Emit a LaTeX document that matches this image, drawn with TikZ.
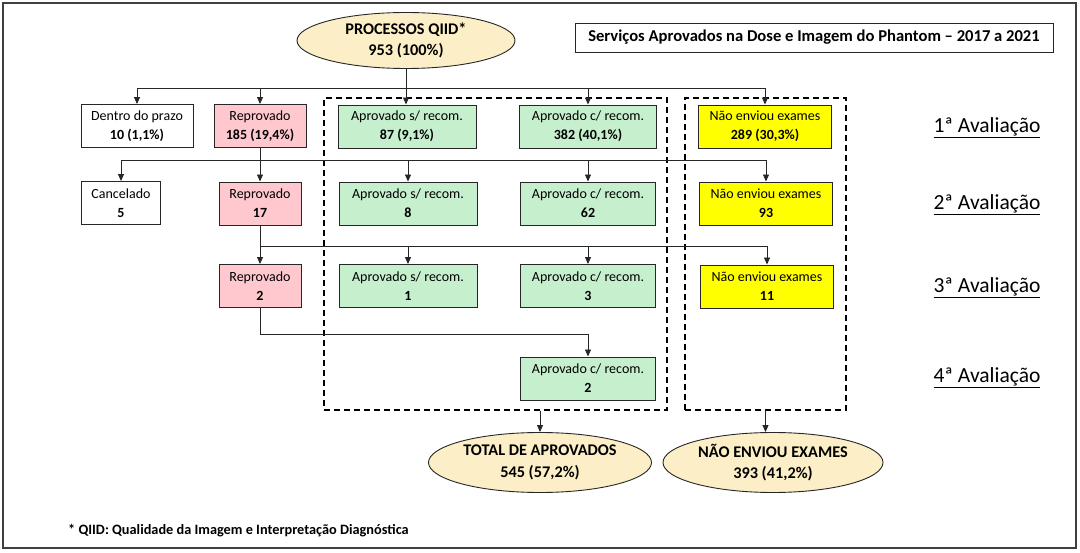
\documentclass[tikz,border=0pt]{standalone}
\usepackage{fontspec}
\setmainfont{Carlito}
\usetikzlibrary{shapes.geometric,arrows.meta}
\definecolor{elfill}{HTML}{FCEFC7}
\definecolor{pinkfill}{HTML}{FFC8CF}
\definecolor{greenfill}{HTML}{C6EFCE}
\definecolor{yelfill}{HTML}{FFFF00}
\definecolor{framecol}{HTML}{404040}
\begin{document}
\begin{tikzpicture}[x=1pt,y=-1pt,
  box/.style={draw=black!85,line width=0.9pt,minimum height=43pt,inner sep=0pt,align=center,font=\fontsize{14}{19}\selectfont},
  whitebox/.style={box,fill=white},
  pinkbox/.style={box,fill=pinkfill},
  greenbox/.style={box,fill=greenfill},
  yelbox/.style={box,fill=yelfill},
  oval/.style={ellipse,draw=black!85,line width=0.9pt,fill=elfill,inner sep=0pt,align=center,font=\fontsize{16.3}{21.5}\selectfont\bfseries},
  dashbox/.style={draw,line width=1.3pt,dash pattern=on 6pt off 4pt,inner sep=0pt},
  conn/.style={draw=black!85,line width=0.9pt},
  arr/.style={conn,-{Triangle[length=7pt,width=6pt]}},
  evalbl/.style={font=\fontsize{21.5}{24}\selectfont,inner sep=0pt}
]
\useasboundingbox (0,0) rectangle (1080,553);
\draw[framecol,line width=1.5pt] (3,3) rectangle (1076,548);

% title
\node[draw=black!85,line width=0.9pt,minimum width=478pt,minimum height=29pt,inner sep=0pt,font=\fontsize{16.6}{18}\selectfont\bfseries] (title) at (814,37.5) {Serviços Aprovados na Dose e Imagem do Phantom – 2017 a 2021};

% dashed groups
\node[dashbox,minimum width=343pt,minimum height=312pt] (dashA) at (495.5,254) {};
\node[dashbox,minimum width=161pt,minimum height=312pt] (dashN) at (765.5,254) {};

% top ellipse
\node[oval,minimum width=218pt,minimum height=56pt] (top) at (406,40.5) {PROCESSOS QIID*\\953 (100\%)};

% row 1
\node[whitebox,minimum width=112pt] (dentro) at (137,126) {Dentro do prazo\\\textbf{10 (1,1\%)}};
\node[pinkbox,minimum width=92pt] (rep1) at (260,126) {Reprovado\\\textbf{185 (19,4\%)}};
\node[greenbox,minimum width=138pt] (as1) at (407,126.5) {Aprovado s/ recom.\\\textbf{87 (9,1\%)}};
\node[greenbox,minimum width=137pt] (ac1) at (588,126.5) {Aprovado c/ recom.\\\textbf{382 (40,1\%)}};
\node[yelbox,minimum width=133pt] (nao1) at (765,126.5) {Não enviou exames\\\textbf{289 (30,3\%)}};

% row 2
\node[whitebox,minimum width=79pt] (canc) at (121,203) {Cancelado\\\textbf{5}};
\node[pinkbox,minimum width=82pt] (rep2) at (260,203.5) {Reprovado\\\textbf{17}};
\node[greenbox,minimum width=138pt] (as2) at (408,203.5) {Aprovado s/ recom.\\\textbf{8}};
\node[greenbox,minimum width=135pt] (ac2) at (588,203.5) {Aprovado c/ recom.\\\textbf{62}};
\node[yelbox,minimum width=133pt] (nao2) at (766,203.5) {Não enviou exames\\\textbf{93}};

% row 3
\node[pinkbox,minimum width=82pt] (rep3) at (260,286) {Reprovado\\\textbf{2}};
\node[greenbox,minimum width=138pt] (as3) at (408,286) {Aprovado s/ recom.\\\textbf{1}};
\node[greenbox,minimum width=135pt] (ac3) at (588,286) {Aprovado c/ recom.\\\textbf{3}};
\node[yelbox,minimum width=133pt] (nao3) at (767,286.5) {Não enviou exames\\\textbf{11}};

% row 4
\node[greenbox,minimum width=135pt] (ac4) at (588,378.5) {Aprovado c/ recom.\\\textbf{2}};

% bottom ellipses
\node[oval,minimum width=223pt,minimum height=60pt] (tot) at (540,462.5) {TOTAL DE APROVADOS\\545 (57,2\%)};
\node[oval,minimum width=220pt,minimum height=60pt] (naot) at (773,462.5) {NÃO ENVIOU EXAMES\\393 (41,2\%)};

% evaluation labels
\node[evalbl] (ev1) at (987,128) {\underline{1ª Avaliação}};
\node[evalbl] (ev2) at (987,205) {\underline{2ª Avaliação}};
\node[evalbl] (ev3) at (987,288) {\underline{3ª Avaliação}};
\node[evalbl] (ev4) at (987,378) {\underline{4ª Avaliação}};

% footnote
\node[anchor=west,inner sep=0pt,font=\fontsize{14.3}{16}\selectfont\bfseries] (foot) at (68,531) {* QIID: Qualidade da Imagem e Interpretação Diagnóstica};

% connectors level 1
\coordinate (b1) at (406,88);
\draw[conn] (top.south) -- (b1);
\draw[conn] (dentro.north |- b1) -- (nao1.north |- b1);
\draw[arr] (dentro.north |- b1) -- (dentro.north);
\draw[arr] (rep1.north |- b1) -- (rep1.north);
\draw[arr] (b1) -- (b1 |- as1.north);
\draw[arr] (ac1.north |- b1) -- (ac1.north);
\draw[arr] (nao1.north |- b1) -- (nao1.north);

% connectors level 2
\coordinate (b2) at (260,160);
\draw[conn] (rep1.south) -- (b2);
\draw[conn] (canc.north |- b2) -- (nao2.north |- b2);
\draw[arr] (canc.north |- b2) -- (canc.north);
\draw[arr] (b2) -- (rep2.north);
\draw[arr] (as2.north |- b2) -- (as2.north);
\draw[arr] (ac2.north |- b2) -- (ac2.north);
\draw[arr] (nao2.north |- b2) -- (nao2.north);

% connectors level 3
\coordinate (b3) at (260,246);
\draw[conn] (rep2.south) -- (b3);
\draw[conn] (b3) -- (nao3.north |- b3);
\draw[arr] (b3) -- (rep3.north);
\draw[arr] (as3.north |- b3) -- (as3.north);
\draw[arr] (ac3.north |- b3) -- (ac3.north);
\draw[arr] (nao3.north |- b3) -- (nao3.north);

% connector level 4
\coordinate (b4) at (260,334);
\draw[conn] (rep3.south) -- (b4) -- (ac4.north |- b4);
\draw[arr] (ac4.north |- b4) -- (ac4.north);

% totals
\draw[arr] (tot.north |- dashA.south) -- (tot.north);
\draw[arr] (dashN.south) -- (dashN.south |- naot.north);
\end{tikzpicture}
\end{document}
